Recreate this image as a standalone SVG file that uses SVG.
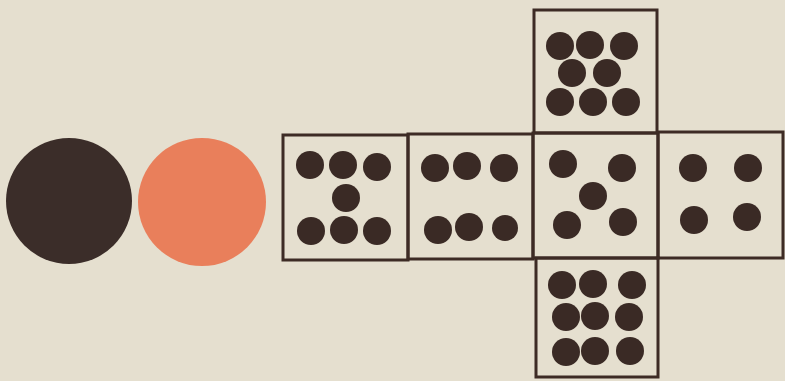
<svg xmlns="http://www.w3.org/2000/svg" width="785" height="381" viewBox="0 0 785 381">
<style>
.cell{fill:none;stroke:#3d2b25;stroke-width:3}
.dot{fill:#3a2a25}
</style>
<rect width="785" height="381" fill="#e5dfcf"/>
<g id="black-disc"><circle cx="69" cy="201" r="63" fill="#3b2d29"/></g>
<g id="orange-disc"><circle cx="202" cy="202" r="64" fill="#e97f5b"/></g>
<g id="net">
<rect class="cell" x="283" y="135" width="125" height="125"/>
<rect class="cell" x="408" y="134" width="125" height="125"/>
<rect class="cell" x="533" y="133" width="125" height="125"/>
<rect class="cell" x="658" y="132" width="125" height="126"/>
<rect class="cell" x="534" y="10" width="123" height="123"/>
<rect class="cell" x="536" y="258" width="122" height="119"/>
</g>
<g id="face-7a">
<circle class="dot" cx="310" cy="165" r="14"/><circle class="dot" cx="343" cy="165" r="14"/><circle class="dot" cx="377" cy="167" r="14"/>
<circle class="dot" cx="346" cy="198" r="14"/>
<circle class="dot" cx="311" cy="231" r="14"/><circle class="dot" cx="344" cy="230" r="14"/><circle class="dot" cx="377" cy="231" r="14"/>
</g>
<g id="face-6">
<circle class="dot" cx="435" cy="168" r="14"/><circle class="dot" cx="467" cy="166" r="14"/><circle class="dot" cx="504" cy="168" r="14"/>
<circle class="dot" cx="438" cy="230" r="14"/><circle class="dot" cx="469" cy="227" r="14"/><circle class="dot" cx="505" cy="228" r="13"/>
</g>
<g id="face-7b">
<circle class="dot" cx="560" cy="46" r="14"/><circle class="dot" cx="590" cy="45" r="14"/><circle class="dot" cx="624" cy="46" r="14"/>
<circle class="dot" cx="572" cy="73" r="14"/><circle class="dot" cx="607" cy="73" r="14"/>
<circle class="dot" cx="560" cy="102" r="14"/><circle class="dot" cx="593" cy="102" r="14"/><circle class="dot" cx="626" cy="102" r="14"/>
</g>
<g id="face-5">
<circle class="dot" cx="563" cy="164" r="14"/><circle class="dot" cx="622" cy="168" r="14"/>
<circle class="dot" cx="593" cy="196" r="14"/>
<circle class="dot" cx="567" cy="225" r="14"/><circle class="dot" cx="623" cy="222" r="14"/>
</g>
<g id="face-4">
<circle class="dot" cx="693" cy="168" r="14"/><circle class="dot" cx="748" cy="168" r="14"/>
<circle class="dot" cx="694" cy="220" r="14"/><circle class="dot" cx="747" cy="217" r="14"/>
</g>
<g id="face-9">
<circle class="dot" cx="562" cy="285" r="14"/><circle class="dot" cx="593" cy="284" r="14"/><circle class="dot" cx="632" cy="285" r="14"/>
<circle class="dot" cx="566" cy="317" r="14"/><circle class="dot" cx="595" cy="316" r="14"/><circle class="dot" cx="629" cy="317" r="14"/>
<circle class="dot" cx="566" cy="352" r="14"/><circle class="dot" cx="595" cy="351" r="14"/><circle class="dot" cx="630" cy="351" r="14"/>
</g>
</svg>
